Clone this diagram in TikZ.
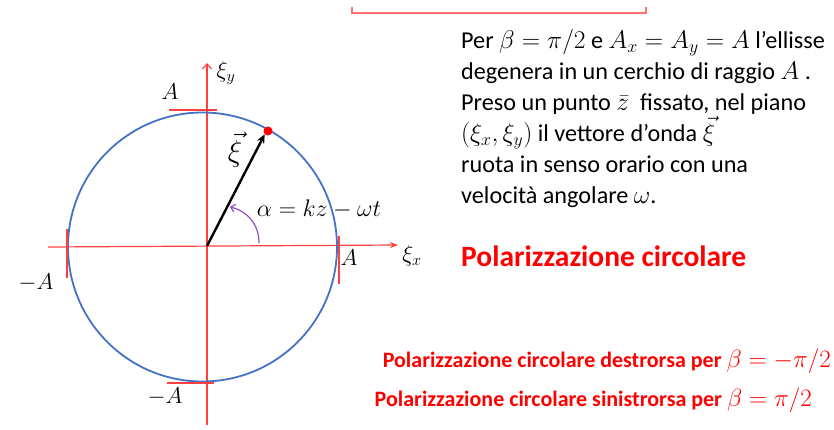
\RequirePackage{fix-cm}
\documentclass[tikz,border=0pt]{standalone}
\usepackage{fontspec}
\setmainfont{Carlito}
\usetikzlibrary{arrows.meta}
\definecolor{axisred}{HTML}{FF4040}
\definecolor{circblue}{HTML}{4472C4}
\definecolor{arcpurple}{HTML}{9050C0}
\definecolor{txtred}{HTML}{FF0000}
\newcommand{\bm}[1]{{\fontsize{25.5}{25.5}\selectfont$#1$}}
\newcommand{\sm}[1]{{\fontsize{25}{25}\selectfont$#1$}}
\begin{document}
\begin{tikzpicture}[x=1pt,y=-1pt,
  axis/.style={draw=axisred,line width=1.2pt},
  tick/.style={draw=axisred,line width=1.1pt},
  lab/.style={font=\fontsize{23}{24}\selectfont,inner sep=0pt},
  body/.style={font=\fontsize{24.2}{31}\selectfont,align=left,anchor=north west,inner sep=0pt},
  bold/.style={text=txtred,font=\fontsize{22}{24}\selectfont\bfseries,inner sep=0pt}]
\useasboundingbox (0,0) rectangle (834,430);
% top bracket
\draw[draw=axisred!75,line width=1.2pt] (352,7) -- (352,13) -- (646,13) -- (646,7);
% axes
\coordinate (O) at (207,246);
\coordinate (xl) at (48,247);
\coordinate (xr) at (398,245);
\coordinate (yb) at (207,425);
\coordinate (yt) at (207,63);
\draw[axis,-{Stealth[length=8pt,width=6pt]}] (xl) -- (xr);
\draw[axis,-{Straight Barb[length=5pt,width=9pt]}] (yb) -- (yt);
% circle
\draw[circblue,line width=1.8pt] (202.5,247) circle[radius=134.5];
% ticks
\draw[tick] (169,110) -- (217,110);
\draw[tick] (167,383) -- (214,383);
\draw[tick] (67,229) -- (67,278);
\draw[tick] (339,236) -- (339,284);
% labels
\node[lab] (At) at (170,92) {$A$};
\node[lab] (Ab) at (165,397) {$-A$};
\node[lab] (Al) at (36,283) {$-A$};
\node[lab] (Ar) at (349,258) {$A$};
\node[lab] (xiy) at (226,73) {$\xi_y$};
\node[lab] (xix) at (412,256) {$\xi_x$};
% vector
\node[fill=red,circle,inner sep=0pt,minimum size=9pt] (P) at (268,131) {};
\draw[line width=2.4pt,-{Stealth[length=9pt,width=8pt]}] (O) -- (P.south west);
\node[inner sep=0pt,font=\fontsize{30}{32}\selectfont] (vxi) at (235,150) {$\vec{\xi}$};
% angle
\coordinate (a1) at (259,243);
\coordinate (a2) at (230,207);
\draw[arcpurple,line width=1.2pt,-{Straight Barb[length=4pt,width=8pt]}] (a1) .. controls (259,224) and (247,211) .. (a2);
\node[inner sep=0pt,font=\fontsize{24}{26}\selectfont] (alpha) at (319,209) {$\alpha = kz - \omega t$};
% text block
\node[body] (txt) at (461,29) {Per \bm{\beta=\pi/2} e \bm{A_x=A_y=A} l’ellisse\\
degenera in un cerchio di raggio \bm{A} .\\
Preso un punto \bm{\bar z}\ \ fissato, nel piano\\
\bm{(\xi_x,\xi_y)} il vettore d’onda \bm{\vec{\xi}}\\
ruota in senso orario con una\\
velocità angolare \bm{\omega}.};
\node[text=txtred,font=\fontsize{29.5}{32}\selectfont\bfseries,inner sep=0pt,anchor=west] (pc) at (461,256) {Polarizzazione circolare};
\node[bold,anchor=east] (pd) at (831,361) {Polarizzazione circolare destrorsa per \sm{\beta=-\pi/2}};
\node[bold,anchor=east] (ps) at (812,400) {Polarizzazione circolare sinistrorsa per \sm{\beta=\pi/2}};
\end{tikzpicture}
\end{document}
